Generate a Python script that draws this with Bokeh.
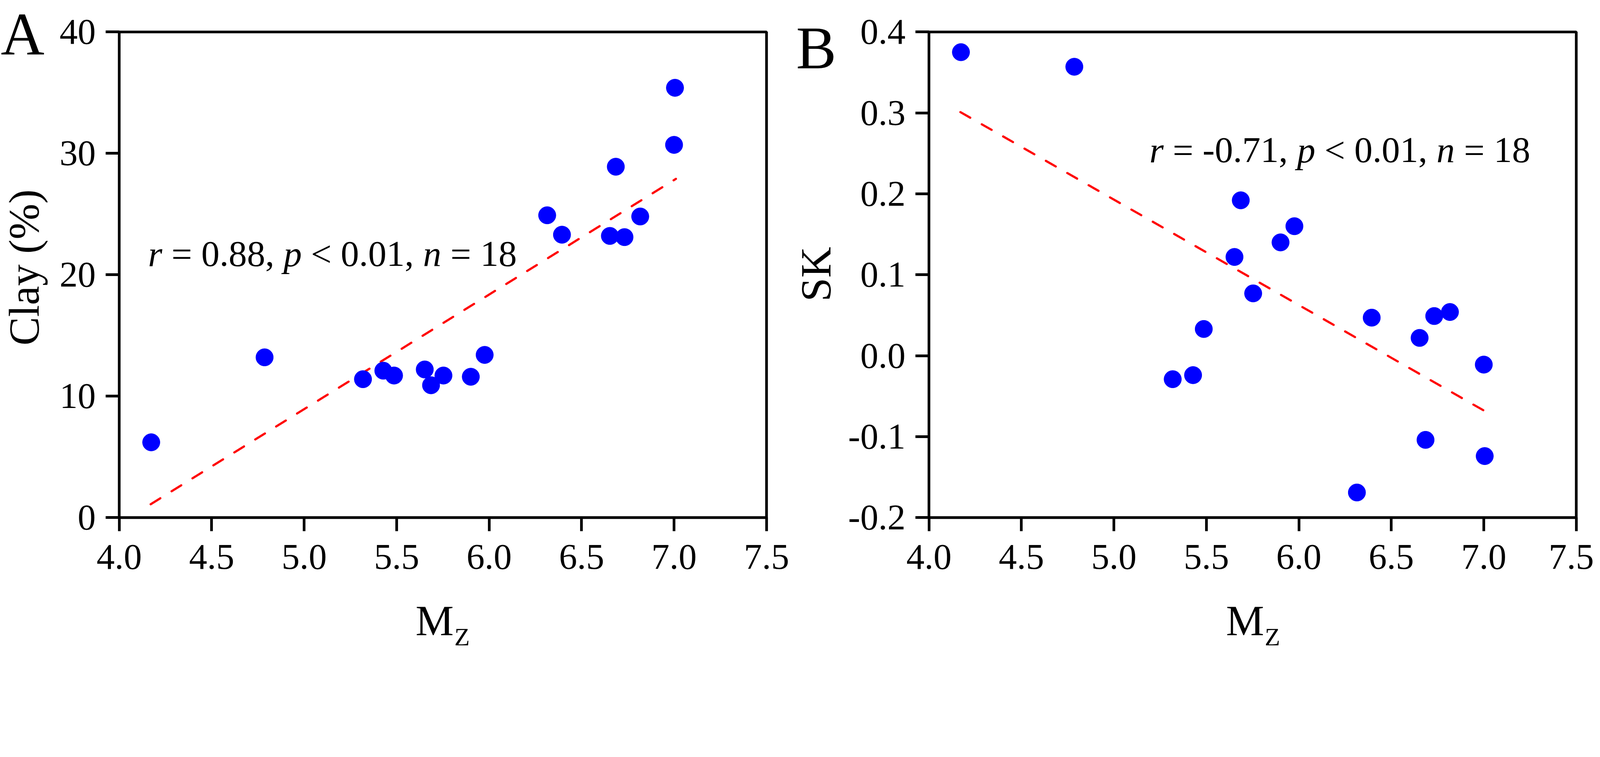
import math
from bokeh.plotting import figure
from bokeh.models import (Range1d, FixedTicker, PrintfTickFormatter, Label,
                          ColumnDataSource, BoxAnnotation)
from bokeh.layouts import row
from bokeh.embed import file_html
from bokeh.resources import INLINE

# ---------------- data ----------------
mz = [4.173, 4.786, 5.318, 5.428, 5.486, 5.652, 5.686, 5.753, 5.901, 5.976,
      6.314, 6.394, 6.653, 6.685, 6.732, 6.817, 7.000, 7.005]
clay = [6.2, 13.2, 11.4, 12.1, 11.7, 12.2, 10.9, 11.7, 11.6, 13.4,
        24.9, 23.3, 23.2, 28.9, 23.1, 24.8, 30.7, 35.4]
sk = [0.375, 0.357, -0.029, -0.024, 0.033, 0.122, 0.192, 0.077, 0.140, 0.160,
      -0.169, 0.047, 0.022, -0.104, 0.049, 0.054, -0.011, -0.124]

fit_x = [4.17, 7.01]
clay_fit = [1.1, 27.9]
sk_fit = [0.301, -0.069]

x_lim = (4.0, 7.5)
clay_lim = (0, 40)
sk_lim = (-0.2, 0.4)
x_ticks = [4.0, 4.5, 5.0, 5.5, 6.0, 6.5, 7.0, 7.5]
clay_ticks = [0, 10, 20, 30, 40]
sk_ticks = [-0.2, -0.1, 0.0, 0.1, 0.2, 0.3, 0.4]

ann_a = [("r", True), (" = 0.88, ", False), ("p", True), (" < 0.01, ", False), ("n", True), (" = 18", False)]
ann_b = [("r", True), (" = -0.71, ", False), ("p", True), (" < 0.01, ", False), ("n", True), (" = 18", False)]

# ---------------- layout ----------------
# geometry is written in picture pixels (4768 wide); the page is laid out in
# CSS pixels of a 4096 px wide viewport, hence the factor K
K = 4768 / 4096
MARGIN = 8
H = 1700                 # canvas height (css)
WA, WB = 2022, 2058      # canvas widths (css)
BOX_T, BOX_B = 104, 1552  # picture y of plot box top / bottom

FONT = "Liberation Serif"
TICK_PX = 108
ANN_PX = 109
LAB_PX = 128
SUB_PX = 75
LET_PX = 180
LW = 8
MID = 0.3375             # baseline offset below a "middle" anchor (em)


def css(v):
    return v / K


def fpx(v):
    return f"{css(v):.2f}px"


# Times / Liberation Serif advance widths (em)
W_REG = {"0": .5, "1": .5, "2": .5, "3": .5, "4": .5, "5": .5, "6": .5, "7": .5,
         "8": .5, "9": .5, ".": .25, ",": .25, " ": .25, "=": .564, "<": .564, "-": .333}
W_IT = {"r": .389, "p": .5, "n": .5}


def tokens(segments, size):
    out = []
    x = 0.0
    for text, italic in segments:
        table = W_IT if italic else W_REG
        word = ""
        start = x
        for ch in text:
            if ch == " ":
                if word:
                    out.append((word, start, italic))
                    word = ""
                x += W_REG[" "] * size
            else:
                if not word:
                    start = x
                word += ch
                x += table[ch] * size
        if word:
            out.append((word, start, italic))
    return out


def make_panel(css_x0, W, box_l, box_r, ylim, yvals, yfit, yticks, yfmt,
               ylabel, ylab_pos, letter, letter_pos, ann, ann_pos, mz_pos):
    sx = (box_r - box_l) / (x_lim[1] - x_lim[0])
    sy = (BOX_B - BOX_T) / (ylim[1] - ylim[0])

    def dx(px):
        return x_lim[0] + (px - box_l) / sx

    def dy(py):
        return ylim[0] + (BOX_B - py) / sy

    # the frame covers the whole canvas; the plot box is drawn inside it
    xr = Range1d(dx(css_x0 * K), dx((css_x0 + W) * K))
    yr = Range1d(dy((MARGIN + H) * K), dy(MARGIN * K))

    p = figure(width=W, height=H, x_range=xr, y_range=yr, min_border=0,
               output_backend="svg", toolbar_location=None, title=None)
    p.background_fill_color = "white"
    p.border_fill_color = "white"
    p.outline_line_color = None
    p.grid.visible = False

    xa = p.xaxis[0]
    ya = p.yaxis[0]
    xa.fixed_location = ylim[0]
    ya.fixed_location = x_lim[0]
    xa.ticker = FixedTicker(ticks=x_ticks)
    xa.formatter = PrintfTickFormatter(format="%.1f")
    ya.ticker = FixedTicker(ticks=yticks)
    ya.formatter = PrintfTickFormatter(format=yfmt)
    for ax in (xa, ya):
        ax.axis_line_color = None
        ax.major_tick_line_width = css(LW)
        ax.major_tick_line_color = "black"
        ax.major_tick_out = round(css(41))
        ax.major_tick_in = 0
        ax.minor_tick_line_color = None
        ax.major_label_text_font = FONT
        ax.major_label_text_font_size = fpx(TICK_PX)
        ax.major_label_text_color = "black"
    ya.major_label_standoff = round(css(29))
    xa.major_label_standoff = round(css(41))

    # plot box
    p.add_layout(BoxAnnotation(left=x_lim[0], right=x_lim[1], bottom=ylim[0], top=ylim[1],
                               fill_color=None, line_color="black", line_width=css(LW),
                               line_alpha=1.0, level="underlay"))

    src = ColumnDataSource(dict(x=mz, y=yvals))
    fit = ColumnDataSource(dict(x=fit_x, y=yfit))
    p.line("x", "y", source=fit, line_color="red", line_width=css(6.5),
           line_dash=f"{round(css(34))} {round(css(40))}", line_cap="round")
    p.scatter("x", "y", source=src, size=css(52), fill_color="blue",
              line_color="blue", line_width=1)

    def lab(px, py, text, size, rotated=False, **kw):
        # (px, py) is where the text baseline starts, in picture pixels
        if rotated:
            ax_, ay_ = px - MID * size, py
            kw["angle"] = math.pi / 2
        else:
            ax_, ay_ = px, py - MID * size
        p.add_layout(Label(x=dx(ax_), y=dy(ay_), text=text, text_font=FONT,
                           text_font_size=fpx(size), text_color="black",
                           text_baseline="middle", text_align="left", **kw))

    # correlation annotation (mixed italic / roman)
    for word, off, italic in tokens(ann, ANN_PX):
        lab(ann_pos[0] + off, ann_pos[1], word, ANN_PX,
            text_font_style="italic" if italic else "normal")

    # y axis title (rotated, starts at the bottom)
    lab(ylab_pos[0], ylab_pos[1], ylabel, LAB_PX, rotated=True)
    # x axis title  M_Z
    lab(mz_pos[0], mz_pos[1], "M", LAB_PX)
    lab(mz_pos[0] + 0.889 * LAB_PX + 2, mz_pos[1] + 30, "Z", SUB_PX)
    # panel letter
    lab(letter_pos[0], letter_pos[1], letter, LET_PX)
    return p


pa = make_panel(MARGIN, WA, 364, 2293, clay_lim, clay, clay_fit, clay_ticks, "%d",
                "Clay (%)", (124, 1039), "A", (11, 170), ann_a, (450, 803), (1247, 1903))
pb = make_panel(MARGIN + WA, WB, 2777, 4706, sk_lim, sk, sk_fit, sk_ticks, "%.1f",
                "SK", (2484, 908), "B", (2381, 212), ann_b, (3434, 493), (3662, 1903))

layout = row(pa, pb)
open("out.html", "w").write(file_html(layout, INLINE))
